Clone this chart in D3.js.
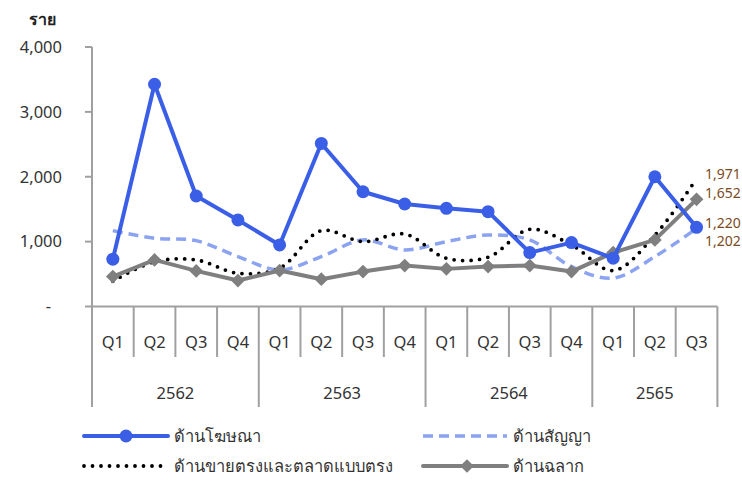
<!DOCTYPE html>
<html>
<head>
<meta charset="utf-8">
<script src="https://cdn.jsdelivr.net/npm/d3@7"></script>
<style>
  body { margin: 0; background: #fff; }
  text { font-family: Tahoma, "Noto Sans", "DejaVu Sans", sans-serif; }
</style>
</head>
<body>
<svg width="742" height="483"></svg>
<script>
const quarters = ["Q1","Q2","Q3","Q4","Q1","Q2","Q3","Q4","Q1","Q2","Q3","Q4","Q1","Q2","Q3"];
const years = ["2562","2563","2564","2565"];
const yearSpans = [4, 4, 4, 3];
const yTicks = [0, 1000, 2000, 3000, 4000];

const advert = [729, 3426, 1703, 1334, 949, 2513, 1769, 1580, 1513, 1462, 831, 985, 744, 2000, 1220];
const contract = [1169, 1052, 1015, 769, 565, 769, 1026, 872, 1000, 1103, 1026, 615, 437, 769, 1202];
const directSales = [390, 690, 718, 513, 590, 1169, 1000, 1118, 744, 759, 1190, 949, 554, 1100, 1971];
const label = [462, 718, 549, 400, 554, 421, 538, 631, 580, 615, 631, 538, 831, 1026, 1652];

const names = ["ด้านโฆษณา", "ด้านสัญญา", "ด้านขายตรงและตลาดแบบตรง", "ด้านฉลาก"];

const svg = d3.select("svg");
const axisColor = "#a0a0a0";
const textColor = "#333";

const x = d3.scaleBand()
  .domain(d3.range(quarters.length))
  .range([92, 717.4]);
const cx = (i) => x(i) + x.bandwidth() / 2;

const y = d3.scaleLinear()
  .domain([0, 4000])
  .range([306.5, 47]);

// y axis
const yAxisG = svg.append("g").attr("class", "y-axis");
yAxisG.append("line")
  .attr("x1", 92).attr("x2", 92)
  .attr("y1", y(4000)).attr("y2", 407)
  .attr("stroke", axisColor).attr("stroke-width", 2);
yAxisG.selectAll("line.tick")
  .data(yTicks)
  .enter().append("line")
  .attr("class", "tick")
  .attr("x1", 85).attr("x2", 92)
  .attr("y1", (d) => y(d)).attr("y2", (d) => y(d))
  .attr("stroke", axisColor).attr("stroke-width", 2);
yAxisG.selectAll("text")
  .data(yTicks)
  .enter().append("text")
  .attr("x", (d) => d === 0 ? 51 : 62)
  .attr("y", (d) => y(d))
  .attr("dy", "0.35em")
  .attr("text-anchor", "end")
  .attr("font-size", 16.5)
  .attr("fill", textColor)
  .text((d) => d === 0 ? "-" : d3.format(",")(d));

svg.append("text")
  .attr("x", 42).attr("y", 19)
  .attr("dy", "0.35em")
  .attr("text-anchor", "middle")
  .attr("font-size", 16)
  .attr("font-weight", "bold")
  .attr("fill", "#222")
  .text("ราย");

// x axis
const xAxisG = svg.append("g").attr("class", "x-axis");
xAxisG.append("line")
  .attr("x1", 92).attr("x2", 717.4)
  .attr("y1", y(0)).attr("y2", y(0))
  .attr("stroke", axisColor).attr("stroke-width", 2);

const groupStarts = [];
let acc = 0;
yearSpans.forEach((n) => { groupStarts.push(acc); acc += n; });

// dividers between quarters
xAxisG.selectAll("line.qdiv")
  .data(d3.range(1, quarters.length + 1))
  .enter().append("line")
  .attr("class", "qdiv")
  .attr("x1", (i) => i < quarters.length ? x(i) : x.range()[1])
  .attr("x2", (i) => i < quarters.length ? x(i) : x.range()[1])
  .attr("y1", y(0))
  .attr("y2", (i) => (groupStarts.includes(i) || i === quarters.length) ? 407 : 357)
  .attr("stroke", axisColor).attr("stroke-width", 2);

xAxisG.selectAll("text.q")
  .data(quarters)
  .enter().append("text")
  .attr("class", "q")
  .attr("x", (d, i) => cx(i))
  .attr("y", 342)
  .attr("dy", "0.35em")
  .attr("text-anchor", "middle")
  .attr("font-size", 16.5)
  .attr("fill", textColor)
  .text((d) => d);

xAxisG.selectAll("text.year")
  .data(years)
  .enter().append("text")
  .attr("class", "year")
  .attr("x", (d, i) => {
    const a = x(groupStarts[i]);
    const b = groupStarts[i] + yearSpans[i] < quarters.length ? x(groupStarts[i] + yearSpans[i]) : x.range()[1];
    return (a + b) / 2;
  })
  .attr("y", 393)
  .attr("dy", "0.35em")
  .attr("text-anchor", "middle")
  .attr("font-size", 16.5)
  .attr("fill", textColor)
  .text((d) => d);

// series
const straight = d3.line().x((d, i) => cx(i)).y((d) => y(d));
const smooth = d3.line().x((d, i) => cx(i)).y((d) => y(d)).curve(d3.curveCatmullRom.alpha(0.5));

const series = [
  {name: names[0], values: advert, color: "#3a5fe6", width: 4, dash: null, cap: "round", marker: "circle", smooth: false, labelDy: -4.5},
  {name: names[1], values: contract, color: "#8ba3f0", width: 3.5, dash: "10,6", cap: "butt", marker: null, smooth: true, labelDy: 13},
  {name: names[2], values: directSales, color: "#000", width: 3.8, dash: "0,8.5", cap: "round", marker: null, smooth: true, labelDy: -4.5},
  {name: names[3], values: label, color: "#7f7f7f", width: 4, dash: null, cap: "round", marker: "diamond", smooth: false, labelDy: -6}
];

const drawOrder = [1, 2, 3, 0];
const linesG = svg.append("g").attr("class", "lines");

drawOrder.forEach((k) => {
  const s = series[k];
  const g = linesG.append("g");
  g.append("path")
    .attr("d", (s.smooth ? smooth : straight)(s.values))
    .attr("fill", "none")
    .attr("stroke", s.color)
    .attr("stroke-width", s.width)
    .attr("stroke-linecap", s.cap)
    .attr("stroke-linejoin", "round")
    .attr("stroke-dasharray", s.dash);
  if (s.marker === "circle") {
    g.selectAll("circle")
      .data(s.values)
      .enter().append("circle")
      .attr("cx", (d, i) => cx(i))
      .attr("cy", (d) => y(d))
      .attr("r", 6.5)
      .attr("fill", s.color);
  } else if (s.marker === "diamond") {
    g.selectAll("path.m")
      .data(s.values)
      .enter().append("path")
      .attr("class", "m")
      .attr("d", d3.symbol(d3.symbolDiamond2, 120))
      .attr("transform", (d, i) => `translate(${cx(i)},${y(d)})`)
      .attr("fill", s.color);
  }
});

// end labels
const last = quarters.length - 1;
svg.append("g").selectAll("text")
  .data(series)
  .enter().append("text")
  .attr("x", 705)
  .attr("y", (s) => y(s.values[last]) + s.labelDy)
  .attr("dy", "0.35em")
  .attr("font-size", 14)
  .attr("fill", "#7a4a22")
  .text((s) => d3.format(",")(s.values[last]));

// legend
const legendItems = [
  {s: series[0], x: 84, y: 436},
  {s: series[1], x: 423, y: 436},
  {s: series[2], x: 84, y: 466},
  {s: series[3], x: 423, y: 466}
];
const legendG = svg.append("g").attr("class", "legend");
legendItems.forEach((item) => {
  const s = item.s;
  const g = legendG.append("g").attr("transform", `translate(${item.x},${item.y})`);
  g.append("line")
    .attr("x1", 0).attr("x2", 84)
    .attr("stroke", s.color)
    .attr("stroke-width", s.width)
    .attr("stroke-linecap", s.cap)
    .attr("stroke-dasharray", s.dash);
  if (s.marker === "circle") {
    g.append("circle").attr("cx", 42).attr("r", 6.5).attr("fill", s.color);
  } else if (s.marker === "diamond") {
    g.append("path")
      .attr("d", d3.symbol(d3.symbolDiamond2, 120))
      .attr("transform", "translate(44,0)")
      .attr("fill", s.color);
  }
  g.append("text")
    .attr("x", 90)
    .attr("dy", "0.35em")
    .attr("font-size", 16.5)
    .attr("fill", textColor)
    .text(s.name);
});
</script>
</body>
</html>
